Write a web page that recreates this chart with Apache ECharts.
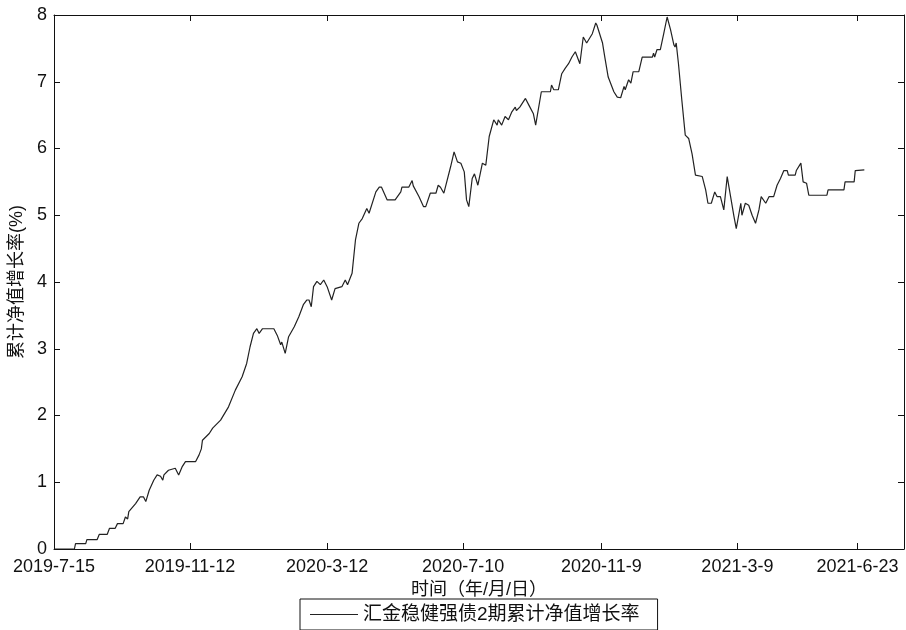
<!DOCTYPE html>
<html>
<head>
<meta charset="utf-8">
<script src="https://cdn.jsdelivr.net/npm/echarts@6/dist/echarts.min.js"></script>
<style>
  html, body { margin: 0; padding: 0; background: #fff; }
  #chart { width: 906px; height: 630px; }
</style>
</head>
<body>
<div id="chart"></div>
<script>
// 日期 / 累计净值增长率(%)
var dates = [
  '2019-07-15', '2019-08-02', '2019-08-03', '2019-08-12', '2019-08-13', '2019-08-22', '2019-08-24', '2019-08-31',
  '2019-09-02', '2019-09-07', '2019-09-09', '2019-09-14', '2019-09-16', '2019-09-18', '2019-09-19', '2019-09-25',
  '2019-09-29', '2019-10-02', '2019-10-04', '2019-10-07', '2019-10-11', '2019-10-14', '2019-10-17', '2019-10-19',
  '2019-10-20', '2019-10-24', '2019-10-30', '2019-11-02', '2019-11-05', '2019-11-08', '2019-11-17', '2019-11-20',
  '2019-11-22', '2019-11-23', '2019-11-29', '2019-12-02', '2019-12-09', '2019-12-16', '2019-12-22', '2019-12-28',
  '2020-01-01', '2020-01-04', '2020-01-07', '2020-01-10', '2020-01-12', '2020-01-15', '2020-01-25', '2020-01-28',
  '2020-01-31', '2020-02-01', '2020-02-04', '2020-02-07', '2020-02-12', '2020-02-16', '2020-02-20', '2020-02-23',
  '2020-02-25', '2020-02-27', '2020-02-29', '2020-03-03', '2020-03-06', '2020-03-09', '2020-03-12', '2020-03-16',
  '2020-03-19', '2020-03-25', '2020-03-28', '2020-03-30', '2020-04-03', '2020-04-06', '2020-04-09', '2020-04-12',
  '2020-04-13', '2020-04-16', '2020-04-18', '2020-04-24', '2020-04-27', '2020-04-29', '2020-05-04', '2020-05-11',
  '2020-05-16', '2020-05-17', '2020-05-23', '2020-05-26', '2020-05-27', '2020-06-01', '2020-06-05', '2020-06-07',
  '2020-06-11', '2020-06-16', '2020-06-18', '2020-06-20', '2020-06-23', '2020-06-29', '2020-07-02', '2020-07-05',
  '2020-07-08', '2020-07-11', '2020-07-13', '2020-07-15', '2020-07-18', '2020-07-20', '2020-07-23', '2020-07-27',
  '2020-07-30', '2020-08-02', '2020-08-06', '2020-08-09', '2020-08-10', '2020-08-13', '2020-08-16', '2020-08-19',
  '2020-08-22', '2020-08-25', '2020-08-26', '2020-08-29', '2020-09-03', '2020-09-06', '2020-09-10', '2020-09-12',
  '2020-09-17', '2020-09-25', '2020-09-26', '2020-09-28', '2020-10-02', '2020-10-05', '2020-10-08', '2020-10-11',
  '2020-10-14', '2020-10-17', '2020-10-21', '2020-10-24', '2020-10-27', '2020-11-01', '2020-11-04', '2020-11-05',
  '2020-11-10', '2020-11-12', '2020-11-15', '2020-11-20', '2020-11-23', '2020-11-26', '2020-11-29', '2020-11-30',
  '2020-12-03', '2020-12-05', '2020-12-07', '2020-12-12', '2020-12-15', '2020-12-24', '2020-12-25', '2020-12-26',
  '2020-12-28', '2020-12-31', '2021-01-03', '2021-01-06', '2021-01-09', '2021-01-12', '2021-01-13', '2021-01-14',
  '2021-01-16', '2021-01-19', '2021-01-22', '2021-01-25', '2021-01-28', '2021-01-31', '2021-02-06', '2021-02-09',
  '2021-02-11', '2021-02-14', '2021-02-17', '2021-02-19', '2021-02-22', '2021-02-25', '2021-02-28', '2021-03-03',
  '2021-03-06', '2021-03-08', '2021-03-12', '2021-03-13', '2021-03-16', '2021-03-19', '2021-03-22', '2021-03-25',
  '2021-03-28', '2021-03-30', '2021-04-03', '2021-04-06', '2021-04-10', '2021-04-13', '2021-04-16', '2021-04-19',
  '2021-04-22', '2021-04-23', '2021-04-29', '2021-04-30', '2021-05-04', '2021-05-06', '2021-05-09', '2021-05-11',
  '2021-05-27', '2021-05-28', '2021-06-11', '2021-06-12', '2021-06-20', '2021-06-21', '2021-06-29'
];
var values = [
  0, 0, 0.08, 0.08, 0.14, 0.14, 0.22, 0.22,
  0.31, 0.31, 0.38, 0.38, 0.48, 0.45, 0.56, 0.68,
  0.78, 0.78, 0.71, 0.88, 1.03, 1.11, 1.09, 1.03,
  1.11, 1.18, 1.21, 1.11, 1.23, 1.31, 1.31, 1.41,
  1.5, 1.63, 1.73, 1.81, 1.93, 2.13, 2.38, 2.58,
  2.78, 3.03, 3.23, 3.30, 3.23, 3.30, 3.30, 3.2,
  3.06, 3.1, 2.93, 3.18, 3.33, 3.48, 3.66, 3.73,
  3.73, 3.63, 3.93, 4.01, 3.96, 4.03, 3.93, 3.73,
  3.9, 3.93, 4.03, 3.96, 4.13, 4.63, 4.88, 4.95,
  4.93, 5.1, 5.03, 5.35, 5.42, 5.42, 5.23, 5.23,
  5.35, 5.42, 5.42, 5.52, 5.44, 5.28, 5.13, 5.13,
  5.33, 5.33, 5.45, 5.42, 5.33, 5.73, 5.95, 5.8,
  5.78, 5.65, 5.23, 5.13, 5.55, 5.62, 5.45, 5.78,
  5.75, 6.18, 6.43, 6.35, 6.43, 6.35, 6.48, 6.43,
  6.55, 6.62, 6.57, 6.62, 6.75, 6.65, 6.52, 6.35,
  6.85, 6.85, 6.95, 6.88, 6.88, 7.12, 7.2, 7.27,
  7.37, 7.45, 7.27, 7.67, 7.58, 7.72, 7.88, 7.85,
  7.58, 7.37, 7.07, 6.85, 6.77, 6.76, 6.93, 6.88,
  7.03, 6.98, 7.15, 7.15, 7.37, 7.37, 7.43, 7.37,
  7.48, 7.48, 7.72, 7.97, 7.78, 7.55, 7.52, 7.58,
  7.27, 6.72, 6.2, 6.15, 5.92, 5.6, 5.58, 5.38,
  5.18, 5.18, 5.35, 5.28, 5.28, 5.08, 5.58, 5.28,
  4.98, 4.8, 5.18, 5.0, 5.18, 5.15, 5.0, 4.88,
  5.08, 5.28, 5.18, 5.28, 5.28, 5.45, 5.55, 5.67,
  5.67, 5.6, 5.6, 5.67, 5.78, 5.5, 5.48, 5.3,
  5.3, 5.38, 5.38, 5.5, 5.5, 5.67, 5.68
];
var xTickLabels = ['2019-7-15', '2019-11-12', '2020-3-12', '2020-7-10', '2020-11-9', '2021-3-9', '2021-6-23'];
var xStart = '2019-7-15', xEnd = '2021-8-3';
var seriesName = '汇金稳健强债2期累计净值增长率';

function toTime(s) {
  var p = s.split('-');
  return new Date(+p[0], +p[1] - 1, +p[2]).getTime();
}
function fmt(t) {
  var d = new Date(t);
  return d.getFullYear() + '-' + (d.getMonth() + 1) + '-' + d.getDate();
}

var tickTimes = xTickLabels.map(toTime);
var lineData = dates.map(function (d, i) { return [toTime(d), values[i]]; });

var fontNum = 'Liberation Sans, Arial, sans-serif';
var fontCjk = 'Liberation Sans, Noto Sans CJK SC, sans-serif';
var axisLine = { show: true, onZero: false, lineStyle: { color: '#111', width: 1 } };
var tickIn = { show: true, inside: true, length: 6, lineStyle: { color: '#111', width: 1 } };

var myChart = echarts.init(document.getElementById('chart'));
var option = {
  backgroundColor: '#fff',
  animation: false,
  grid: { left: 54, right: 2, top: 15, bottom: 81, containLabel: false, outerBoundsMode: 'none' },
  legend: {
    data: [seriesName],
    left: 300,
    top: 599,
    icon: 'rect',
    itemWidth: 48,
    itemHeight: 1,
    padding: [6, 18, 6, 10],
    borderColor: '#111',
    borderWidth: 1,
    borderRadius: 0,
    textStyle: { fontFamily: fontCjk, fontSize: 19, color: '#111' }
  },
  xAxis: [
    {
      type: 'value',
      min: toTime(xStart),
      max: toTime(xEnd),
      name: '时间（年/月/日）',
      nameLocation: 'middle',
      nameGap: 32,
      nameTextStyle: { fontFamily: fontCjk, fontSize: 18, color: '#111' },
      axisLine: axisLine,
      axisTick: Object.assign({ customValues: tickTimes }, tickIn),
      axisLabel: {
        customValues: tickTimes,
        formatter: function (v) { return fmt(v); },
        fontFamily: fontNum, fontSize: 18, color: '#111', margin: 9
      },
      splitLine: { show: false }
    },
    {
      type: 'value',
      position: 'top',
      min: toTime(xStart),
      max: toTime(xEnd),
      axisLine: axisLine,
      axisTick: Object.assign({ customValues: tickTimes }, tickIn),
      axisLabel: { show: false },
      splitLine: { show: false }
    }
  ],
  yAxis: [
    {
      type: 'value',
      min: 0,
      max: 8,
      interval: 1,
      name: '累计净值增长率(%)',
      nameLocation: 'middle',
      nameGap: 28,
      nameTextStyle: { fontFamily: fontCjk, fontSize: 18, color: '#111' },
      axisLine: axisLine,
      axisTick: tickIn,
      axisLabel: { fontFamily: fontNum, fontSize: 18, color: '#111', margin: 7 },
      splitLine: { show: false }
    },
    {
      type: 'value',
      position: 'right',
      min: 0,
      max: 8,
      interval: 1,
      axisLine: axisLine,
      axisTick: tickIn,
      axisLabel: { show: false },
      splitLine: { show: false }
    }
  ],
  series: [
    {
      name: seriesName,
      type: 'line',
      data: lineData,
      symbol: 'none',
      itemStyle: { color: '#222' },
      lineStyle: { color: '#222', width: 1.2 }
    }
  ]
};
myChart.setOption(option);
</script>
</body>
</html>
